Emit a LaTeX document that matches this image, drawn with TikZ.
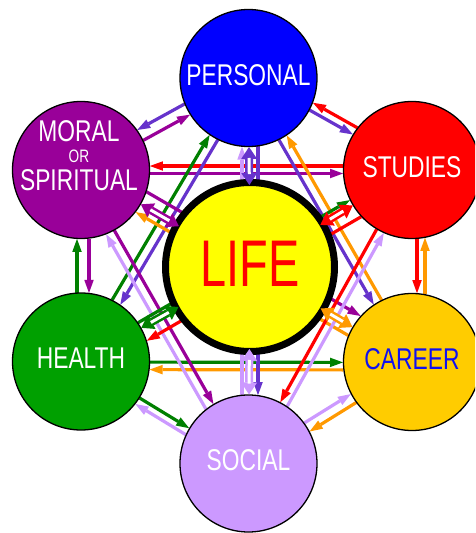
\documentclass[tikz,border=0pt]{standalone}
\usepackage{fontspec}
\setmainfont{Liberation Sans}[FakeStretch=0.76]
\newfontfamily\lifefont{Liberation Sans}[FakeStretch=0.71]
\usetikzlibrary{calc,arrows.meta,backgrounds}
\definecolor{pfill}{HTML}{0000FF}
\definecolor{parr}{HTML}{6633CC}
\definecolor{mcol}{HTML}{990099}
\definecolor{scol}{HTML}{FF0000}
\definecolor{cfill}{HTML}{FFCC00}
\definecolor{carr}{HTML}{FF9900}
\definecolor{hfill}{HTML}{00A000}
\definecolor{harr}{HTML}{008000}
\definecolor{socol}{HTML}{CC99FF}
\definecolor{lfill}{HTML}{FFFF00}
\definecolor{ctext}{HTML}{1010F0}
\tikzset{
  ball/.style={circle, draw=black, line width=1.3pt, minimum size=137pt, inner sep=0pt,
    text depth=6pt, font=\fontsize{30}{30}\selectfont, text=white},
  conn/.style={line width=3.2pt},
  >={Triangle[length=13pt,width=9.5pt,line width=0pt]},
  hollowtip/.tip={Triangle[length=12pt,width=16pt,line width=0pt]},
}
% #1 options, #2 from node, #3 to node, #4 side offset (pt, right of travel from->to)
\newcommand\pairarrow[4]{%
  \draw[conn,#1,
    shorten <={sqrt(69*69-(#4)*(#4))*1pt},
    shorten >={sqrt(69*69-(#4)*(#4))*1pt}]
    ($(#2)!#4pt!-90:(#3)$) -- ($(#3)!#4pt!90:(#2)$);%
}
% hollow double arrow between LIFE and node #2
\newcommand\lifearrow[2]{%
  \draw[#1, line width=8pt, {hollowtip}-{hollowtip}, shorten <=82pt, shorten >=69pt]
    (L.center) -- (#2.center);
  \draw[white, line width=3pt, shorten <=93pt, shorten >=80pt]
    (L.center) -- (#2.center);%
}
\begin{document}
\begin{tikzpicture}[x=1pt,y=-1pt]
\useasboundingbox (0,0) rectangle (475,533);
\clip (0,0) rectangle (475,533);

\node[ball, fill=pfill] (P) at (248.5,78) {PERSONAL};
\node[ball, fill=mcol] (M) at (81,170) {};
\node[inner sep=0pt, align=center, text=white, font=\fontsize{30}{24.5}\selectfont] (Mtext) at (79,156)
  {MORAL\\[-4pt]{\fontsize{18}{24.5}\selectfont OR}\\[4.3pt]SPIRITUAL};
\node[ball, fill=scol] (S) at (412,170) {STUDIES};
\node[ball, fill=hfill] (H) at (81,361.5) {HEALTH};
\node[ball, fill=cfill, text=ctext] (C) at (412,362) {CAREER};
\node[ball, fill=socol] (So) at (248.5,463.5) {SOCIAL};
\node[circle, draw=black, line width=7pt, fill=lfill, minimum size=169pt, inner sep=0pt,
  text=red, text depth=6pt, font=\lifefont\fontsize{66}{66}\selectfont] (L) at (250,267) {LIFE};

\begin{scope}[on background layer]
\fill[white] (0,0) rectangle (475,533);
% Personal - Moral
\pairarrow{parr,->}{P}{M}{8}
\pairarrow{mcol,<-}{P}{M}{-4}
% Personal - Studies
\pairarrow{parr,->}{P}{S}{-2}
\pairarrow{scol,<-}{P}{S}{-10}
% Studies - Career
\pairarrow{scol,->}{S}{C}{-5}
\pairarrow{carr,<-}{S}{C}{-13}
% Career - Social
\pairarrow{socol,<-}{C}{So}{5}
\pairarrow{carr,->}{C}{So}{-5}
% Health - Social
\pairarrow{harr,->}{H}{So}{0.7}
\pairarrow{socol,<-}{H}{So}{8}
% Health - Moral
\pairarrow{harr,->}{H}{M}{-4}
\pairarrow{mcol,<-}{H}{M}{8}
% Moral - Studies
\pairarrow{scol,<-}{M}{S}{-4}
\pairarrow{mcol,->}{M}{S}{3.5}
% Health - Career
\pairarrow{harr,->}{H}{C}{0.5}
\pairarrow{carr,<-}{H}{C}{8}
% Personal - Social
\pairarrow{socol,<-}{P}{So}{6.5}
\pairarrow{parr,->}{P}{So}{-9.5}
% Personal - Health
\pairarrow{harr,<-}{P}{H}{4.5}
\pairarrow{parr,->}{P}{H}{-5}
% Personal - Career
\pairarrow{parr,->}{P}{C}{4.5}
\pairarrow{carr,<-}{P}{C}{-4.5}
% Moral - Social
\pairarrow{mcol,->}{M}{So}{1}
\pairarrow{socol,<-}{M}{So}{10}
% Moral - Career
\pairarrow{carr,<-}{M}{C}{9}
\pairarrow{mcol,->}{M}{C}{-14}
% Studies - Health
\pairarrow{harr,<-}{S}{H}{5}
\pairarrow{scol,->}{S}{H}{-15}
% Studies - Social
\pairarrow{scol,->}{S}{So}{2}
\pairarrow{socol,<-}{S}{So}{-6}
\end{scope}

\lifearrow{parr}{P}
\lifearrow{mcol}{M}
\lifearrow{scol}{S}
\lifearrow{harr}{H}
\lifearrow{carr}{C}
\lifearrow{socol}{So}
\end{tikzpicture}
\end{document}
